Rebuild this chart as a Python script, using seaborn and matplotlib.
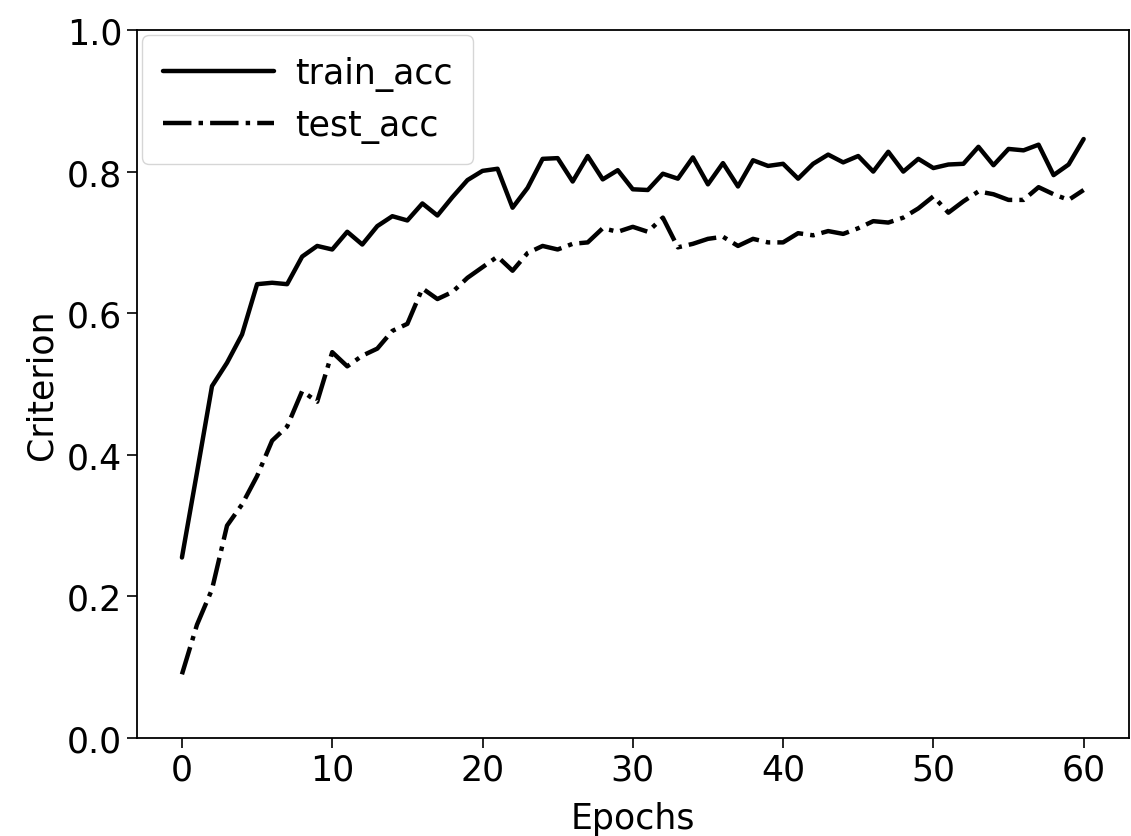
import numpy as np
import pandas as pd
import matplotlib
matplotlib.use("Agg")
import matplotlib.pyplot as plt
import seaborn as sns

# --- dados ---
epochs = list(range(61))

train_acc = [0.255, 0.375, 0.497, 0.530, 0.570, 0.641, 0.643, 0.641, 0.680, 0.695,
             0.690, 0.715, 0.697, 0.723, 0.737, 0.731, 0.755, 0.738, 0.764, 0.788,
             0.801, 0.804, 0.749, 0.777, 0.818, 0.819, 0.786, 0.822, 0.789, 0.802,
             0.775, 0.774, 0.797, 0.790, 0.820, 0.782, 0.812, 0.779, 0.816, 0.808,
             0.811, 0.790, 0.811, 0.824, 0.813, 0.822, 0.800, 0.828, 0.800, 0.818,
             0.805, 0.810, 0.811, 0.835, 0.809, 0.832, 0.830, 0.838, 0.795, 0.810,
             0.846]

test_acc = [0.090, 0.160, 0.210, 0.300, 0.330, 0.370, 0.420, 0.440, 0.490, 0.475,
            0.545, 0.525, 0.540, 0.550, 0.575, 0.585, 0.635, 0.620, 0.630, 0.650,
            0.665, 0.680, 0.660, 0.685, 0.695, 0.690, 0.698, 0.700, 0.720, 0.715,
            0.722, 0.715, 0.735, 0.693, 0.698, 0.705, 0.708, 0.695, 0.705, 0.700,
            0.700, 0.713, 0.710, 0.716, 0.712, 0.720, 0.730, 0.728, 0.735, 0.748,
            0.765, 0.742, 0.758, 0.772, 0.768, 0.760, 0.760, 0.778, 0.768, 0.760,
            0.774]

x_ticks = [0, 10, 20, 30, 40, 50, 60]
y_ticks = [0.0, 0.2, 0.4, 0.6, 0.8, 1.0]

sns.set_style("ticks")
plt.rcParams["font.family"] = ["DejaVu Sans"]
plt.rcParams["text.color"] = "black"
plt.rcParams["axes.labelcolor"] = "black"
plt.rcParams["xtick.color"] = "black"
plt.rcParams["ytick.color"] = "black"
plt.rcParams["axes.edgecolor"] = "black"

df = pd.DataFrame({"Epochs": epochs, "train_acc": train_acc, "test_acc": test_acc})

fig, ax = plt.subplots(figsize=(11.31, 8.37), dpi=100)
fig.subplots_adjust(left=0.121, right=0.998, top=0.963, bottom=0.117)

sns.lineplot(data=df, x="Epochs", y="train_acc", color="black", linewidth=3.2,
             linestyle="-", label="train_acc", ax=ax)
sns.lineplot(data=df, x="Epochs", y="test_acc", color="black", linewidth=3.2,
             linestyle="-.", label="test_acc", ax=ax)

ax.set_ylim(0, 1.0)
ax.set_xlim(-3, 63)
ax.set_xticks(x_ticks)
ax.set_yticks(y_ticks)
ax.set_xlabel("Epochs", fontsize=25, labelpad=10)
ax.set_ylabel("Criterion", fontsize=25, labelpad=6)
ax.tick_params(labelsize=25, length=7, width=1.2, direction="out", colors="black")
for s in ax.spines.values():
    s.set_linewidth(1.3)
    s.set_visible(True)

ax.legend(loc="upper left", fontsize=25, handlelength=3.2, framealpha=0.8,
          borderaxespad=0.15, borderpad=0.6, handletextpad=0.6)

fig.savefig("out.png", dpi=100)
